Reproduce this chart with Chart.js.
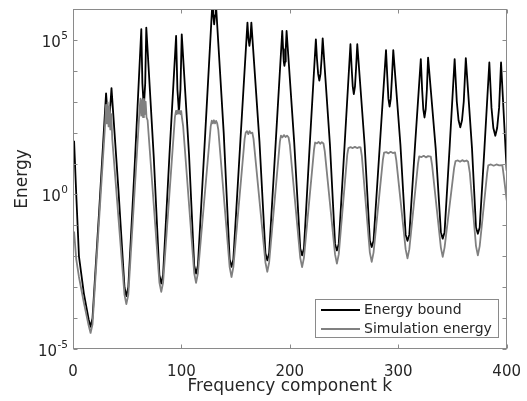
<!DOCTYPE html>
<html>
<head>
<meta charset="utf-8">
<script src="https://cdn.jsdelivr.net/npm/chart.js@4.4.1/dist/chart.umd.min.js"></script>
<style>
  body { margin: 0; background: #fff; }
</style>
</head>
<body>
<canvas id="energyChart" width="527" height="401"></canvas>
<script>
// axis ticks
const xTicks = [0, 100, 200, 300, 400];
const yTicks = [1e-5, 1e-4, 1e-3, 1e-2, 1e-1, 1, 1e1, 1e2, 1e3, 1e4, 1e5, 1e6];
// y labels are 10 with a superscript exponent, only every 5 decades
const yTickExps = ["-5", "", "", "", "", "0", "", "", "", "", "5", ""];

const seriesNames = ["Energy bound", "Simulation energy"];

// Energy bound: [k, log10(energy)]
const boundPoints = [
  [1, 1.74], [3, 0.0], [5.5, -2.0], [10, -3.2], [14.5, -4.05], [16.2, -4.28], [18, -4.0], [24, -0.6],
  [30.5, 3.27], [31.7, 2.7], [33, 2.4], [34.3, 2.8], [35.5, 3.44],
  [42, 0.1], [47.5, -3.0], [49.2, -3.29], [51, -3.0], [57, 1.0],
  [63, 5.35], [64, 3.6], [65.3, 2.8], [66.6, 3.6], [67.6, 5.4],
  [74.5, 1.2], [79.7, -2.6], [81.4, -2.88], [83.1, -2.6], [89, 1.3],
  [95.1, 5.13], [96.3, 3.4], [97.7, 2.65], [99.1, 3.4], [100.3, 5.18],
  [107, 1.3], [111.8, -2.3], [113.5, -2.56], [115.2, -2.3], [122, 2.0],
  [128.7, 6.3], [129.4, 5.8], [130.2, 5.5], [131, 5.8], [131.6, 6.3],
  [139, 2.0], [144.5, -2.1], [146.2, -2.34], [147.9, -2.1], [154.5, 1.8],
  [160.9, 5.56], [161.8, 5.05], [162.7, 4.81], [163.6, 5.05], [164.5, 5.56],
  [172, 1.7], [177.5, -1.9], [179.2, -2.13], [180.9, -1.9], [187, 1.7],
  [193, 5.29], [193.8, 4.7], [194.4, 4.3], [195, 4.16], [195.6, 4.3], [196.2, 4.7], [197, 5.29],
  [204, 1.7], [209.6, -1.75], [211.3, -1.97], [213, -1.75], [218.5, 1.7],
  [224, 5.02], [225, 4.4], [226.1, 3.9], [227.2, 3.68], [228.3, 3.9], [229.3, 4.4], [230.3, 5.05],
  [237, 1.6], [241.7, -1.6], [243.4, -1.81], [245.1, -1.6], [250.5, 1.6],
  [255.9, 4.86], [257, 4.1], [258, 3.5], [259, 3.25], [260.1, 3.5], [261.1, 4.1], [262.2, 4.86],
  [269, 1.6], [273.8, -1.5], [275.5, -1.7], [277.2, -1.5], [283, 1.6],
  [288.7, 4.67], [289.9, 3.8], [290.9, 3.1], [292, 2.84], [293.1, 3.1], [294.2, 3.8], [295.4, 4.67],
  [302, 1.6], [306.8, -1.3], [308.5, -1.5], [310.2, -1.3], [315.5, 1.6],
  [320.8, 4.38], [322, 3.4], [323.1, 2.75], [324.2, 2.49], [325.3, 2.75], [326.4, 3.4], [327.5, 4.43],
  [334.5, 1.5], [339.3, -1.22], [341, -1.43], [342.7, -1.22], [347.5, 1.6],
  [352, 4.38], [354, 3.0], [355.6, 2.4], [357.2, 2.17], [358.8, 2.4], [360.4, 3.0], [362.3, 4.41],
  [368, 1.5], [371.7, -1.07], [373.4, -1.27], [375.1, -1.07], [379.5, 1.5],
  [384, 4.27], [386, 2.8], [387.7, 2.15], [389.5, 1.9], [391.2, 2.15], [393, 2.8], [394.8, 4.27],
  [400, 0.77]
];

// Simulation energy: [k, log10(energy)]
const simPoints = [
  [1, -1.2], [3, -2.1], [5.5, -2.67], [10, -3.5], [14.5, -4.25], [16.2, -4.48], [18, -4.2], [29.5, 2.2],
  [30.5, 2.9], [31.2, 2.3], [32, 2.98], [32.8, 2.2], [33.6, 2.85], [34.4, 2.1], [35.3, 2.6], [36.2, 1.8],
  [47.5, -3.25], [49.2, -3.55], [51, -3.25], [61.5, 2.8],
  [62.3, 3.1], [63, 2.55], [63.8, 3.05], [64.6, 2.5], [65.4, 3.09], [66.2, 2.6], [67, 3.0], [67.8, 2.5], [68.8, 2.4],
  [79.7, -2.85], [81.4, -3.15], [83.1, -2.85], [94, 2.5],
  [95, 2.7], [95.8, 2.6], [96.6, 2.72], [97.4, 2.62], [98.2, 2.71], [99, 2.6], [99.8, 2.7], [100.6, 2.45], [101.6, 2.2],
  [111.8, -2.55], [113.5, -2.86], [115.2, -2.55], [127, 2.2],
  [128, 2.39], [129, 2.3], [130, 2.4], [131, 2.3], [132, 2.38], [133, 2.3], [134, 2.1],
  [144.5, -2.35], [146.2, -2.67], [147.9, -2.35], [158.3, 1.8],
  [159.3, 2.0], [160.5, 2.05], [161.7, 1.95], [162.9, 2.05], [164.1, 1.98], [165.4, 2.0], [166.5, 1.8],
  [177.5, -2.2], [179.2, -2.5], [180.9, -2.2], [190.8, 1.7],
  [191.8, 1.9], [193.2, 1.85], [194.6, 1.92], [196, 1.86], [197.4, 1.9], [198.8, 1.85], [200, 1.6],
  [209.6, -2.05], [211.3, -2.35], [213, -2.05], [222.3, 1.45],
  [223.3, 1.68], [225, 1.65], [226.5, 1.7], [228, 1.64], [229.5, 1.69], [231, 1.65], [232.2, 1.4],
  [241.7, -1.94], [243.4, -2.24], [245.1, -1.94], [253, 1.3],
  [254, 1.5], [256, 1.53], [258, 1.5], [260, 1.54], [262, 1.5], [264, 1.53], [265.2, 1.52], [266.4, 1.25],
  [273.8, -1.88], [275.5, -2.18], [277.2, -1.88], [285.8, 1.12],
  [286.9, 1.35], [289, 1.37], [291, 1.33], [293, 1.38], [295, 1.34], [297, 1.36], [298.2, 1.1],
  [306.8, -1.77], [308.5, -2.07], [310.2, -1.77], [318.2, 1.0],
  [319.3, 1.23], [321.5, 1.21], [323.5, 1.25], [325.5, 1.2], [327.5, 1.24], [330, 1.22], [331.2, 0.95],
  [339.3, -1.72], [341, -2.02], [342.7, -1.72], [351.5, 0.85],
  [352.8, 1.08], [355, 1.1], [357, 1.06], [359, 1.11], [361, 1.07], [363, 1.1], [364.4, 1.06], [366, 0.7],
  [371.7, -1.67], [373.4, -1.97], [375.1, -1.67], [382, 0.7],
  [383, 0.94], [385.5, 0.97], [388, 0.93], [390.5, 0.97], [393, 0.94], [396, 0.95], [397.3, 0.6],
  [400, -0.19]
];

const axisColor = "#8a8a8a";
const textColor = "#262626";
const fontFamily = "'DejaVu Sans', sans-serif";

function toXY(points) {
  return points.map(p => ({ x: p[0], y: Math.pow(10, p[1]) }));
}

// 📦 box, inward ticks, y labels and legend
const framePlugin = {
  id: "frame",
  afterDatasetsDraw(chart) {
    const { ctx, chartArea: a, scales } = chart;
    const l = Math.round(a.left) + 0.5;
    const r = Math.round(a.right) - 0.5;
    const t = Math.round(a.top) + 0.5;
    const b = Math.round(a.bottom) - 0.5;
    const len = 4;

    ctx.save();
    ctx.strokeStyle = axisColor;
    ctx.lineWidth = 1;
    ctx.strokeRect(l, t, r - l, b - t);

    ctx.beginPath();
    xTicks.forEach(v => {
      const x = Math.round(scales.x.getPixelForValue(v)) + 0.5;
      ctx.moveTo(x, b); ctx.lineTo(x, b - len);
      ctx.moveTo(x, t); ctx.lineTo(x, t + len);
    });
    yTicks.forEach(v => {
      const y = Math.round(scales.y.getPixelForValue(v)) + 0.5;
      ctx.moveTo(l, y); ctx.lineTo(l + len, y);
      ctx.moveTo(r, y); ctx.lineTo(r - len, y);
    });
    ctx.stroke();

    // y tick labels: "10" plus raised exponent
    ctx.fillStyle = textColor;
    ctx.textBaseline = "middle";
    ctx.textAlign = "right";
    yTicks.forEach((v, i) => {
      const exp = yTickExps[i];
      if (!exp) return;
      const y = scales.y.getPixelForValue(v);
      const xr = a.left - 5;
      ctx.font = "10.5px " + fontFamily;
      const w = ctx.measureText(exp).width;
      ctx.fillText(exp, xr, y - 4);
      ctx.font = "15px " + fontFamily;
      ctx.fillText("10", xr - w - 0.5, y + 3);
    });

    // legend box
    const bx = 315.5, by = 299.5, bw = 183, bh = 38;
    ctx.fillStyle = "#fff";
    ctx.fillRect(bx, by, bw, bh);
    ctx.strokeStyle = axisColor;
    ctx.strokeRect(bx, by, bw, bh);

    ctx.font = "14px " + fontFamily;
    ctx.textBaseline = "middle";
    ctx.textAlign = "left";
    chart.data.datasets.forEach((ds, i) => {
      const y = 310 + i * 19;
      ctx.strokeStyle = ds.borderColor;
      ctx.lineWidth = 2;
      ctx.beginPath();
      ctx.moveTo(321, y);
      ctx.lineTo(360, y);
      ctx.stroke();
      ctx.fillStyle = textColor;
      ctx.fillText(ds.label, 364, y);
    });
    ctx.restore();
  }
};

const chart = new Chart(document.getElementById("energyChart"), {
  type: "line",
  data: {
    datasets: [
      {
        label: seriesNames[0],
        data: toXY(boundPoints),
        borderColor: "#000000",
        borderWidth: 1.8,
        pointRadius: 0,
        tension: 0,
        borderJoinStyle: "round",
        order: 1
      },
      {
        label: seriesNames[1],
        data: toXY(simPoints),
        borderColor: "#808080",
        borderWidth: 1.8,
        pointRadius: 0,
        tension: 0,
        borderJoinStyle: "round",
        order: 0
      }
    ]
  },
  options: {
    responsive: false,
    devicePixelRatio: 1,
    animation: false,
    layout: { padding: { top: 9, right: 18, left: 0, bottom: 0 } },
    plugins: {
      legend: { display: false },
      tooltip: { enabled: false }
    },
    scales: {
      x: {
        type: "linear",
        min: 0,
        max: 400,
        grid: { display: false },
        border: { display: false },
        afterBuildTicks: s => { s.ticks = xTicks.map(v => ({ value: v })); },
        afterFit: s => { s.height = 52; },
        ticks: {
          autoSkip: false,
          maxRotation: 0,
          padding: 6,
          color: textColor,
          font: { family: fontFamily, size: 15 },
          callback: v => String(v)
        },
        title: {
          display: true,
          text: "Frequency component k",
          color: textColor,
          font: { family: fontFamily, size: 17 },
          padding: { top: 0, bottom: 4 }
        }
      },
      y: {
        type: "logarithmic",
        min: 1e-5,
        max: 1e6,
        grid: { display: false },
        border: { display: false },
        afterBuildTicks: s => { s.ticks = yTicks.map(v => ({ value: v })); },
        afterFit: s => { s.width = 73; },
        ticks: { display: false },
        title: {
          display: true,
          text: "Energy",
          color: textColor,
          font: { family: fontFamily, size: 17 },
          padding: { top: 12, bottom: 0 }
        }
      }
    }
  },
  plugins: [framePlugin]
});
</script>
</body>
</html>
